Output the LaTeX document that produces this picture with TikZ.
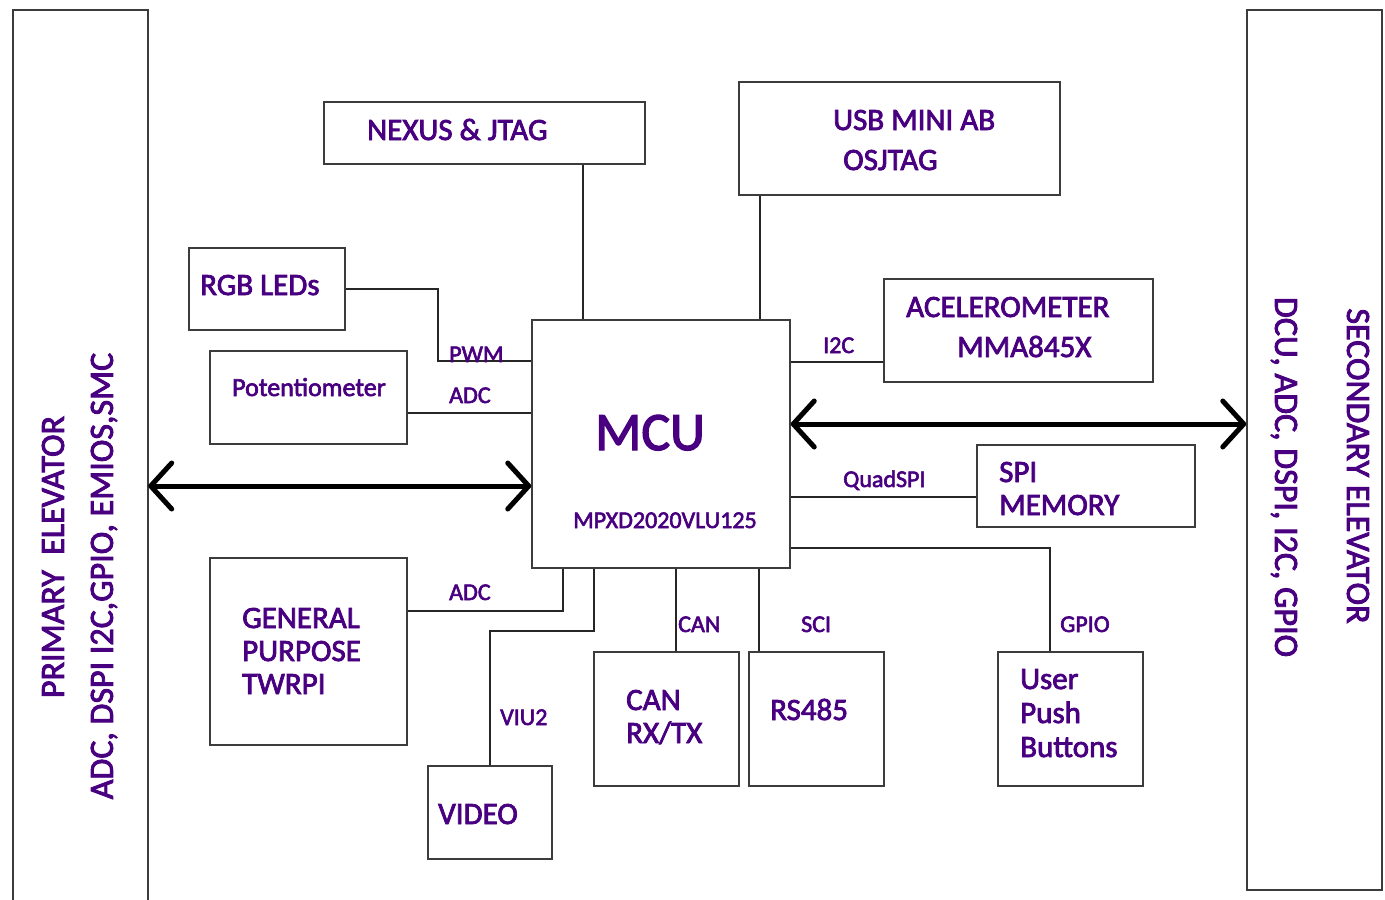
\documentclass[tikz,border=0pt]{standalone}
\usepackage{fontspec}
\setmainfont{Carlito}
\newfontfamily\medfont{Carlito}[FakeBold=2.5]
\usetikzlibrary{arrows.meta}
\definecolor{txt}{RGB}{72,0,128}
\definecolor{edge}{RGB}{60,60,60}
\begin{document}
\begin{tikzpicture}[x=1pt,y=-1pt,
  box/.style={draw=edge,line width=1.5pt,inner sep=0pt,rectangle},
  conn/.style={draw=black!85,line width=1.3pt},
  big/.style={line width=5pt,line cap=round,{Straight Barb[length=21pt,width=46pt,round]}-{Straight Barb[length=21pt,width=46pt,round]}},
  lbl/.style={text=txt,inner sep=0pt,anchor=base west,font=\medfont\fontsize{31}{33}\selectfont},
  sml/.style={text=txt,inner sep=0pt,anchor=base west,font=\medfont\fontsize{24}{26}\selectfont},
  elev/.style={text=txt,inner sep=0pt,font=\medfont\fontsize{34}{36}\selectfont}]
\useasboundingbox (0,0) rectangle (1385,900);
% panels
\node[inner sep=0pt,minimum width=135pt,minimum height=890pt] (lp) at (80.5,455) {};
\draw[edge,line width=1.5pt] (lp.south west) -- (lp.north west) -- (lp.north east) -- (lp.south east);
\node[box,minimum width=135pt,minimum height=880pt] (rp) at (1314.5,450) {};
% boxes
\node[box,minimum width=321pt,minimum height=62pt] (nexus) at (484.5,133) {};
\node[box,minimum width=321pt,minimum height=113pt] (usb) at (899.5,138.5) {};
\node[box,minimum width=156pt,minimum height=82pt] (rgb) at (267,289) {};
\node[box,minimum width=197pt,minimum height=93pt] (pot) at (308.5,397.5) {};
\node[box,minimum width=258pt,minimum height=248pt] (mcu) at (661,444) {};
\node[box,minimum width=269pt,minimum height=103pt] (accel) at (1018.5,330.5) {};
\node[box,minimum width=218pt,minimum height=82pt] (spi) at (1086,486) {};
\node[box,minimum width=197pt,minimum height=187pt] (gp) at (308.5,651.5) {};
\node[box,minimum width=124pt,minimum height=93pt] (video) at (490,812.5) {};
\node[box,minimum width=145pt,minimum height=134pt] (can) at (666.5,719) {};
\node[box,minimum width=135pt,minimum height=134pt] (rs) at (816.5,719) {};
\node[box,minimum width=145pt,minimum height=134pt] (user) at (1070.5,719) {};
% helper coordinates
\coordinate (xN) at (583,0);
\coordinate (xU) at (760,0);
\coordinate (cPWM) at (438,361);
\coordinate (yADC) at (0,413);
\coordinate (yI2C) at (0,362);
\coordinate (yQ) at (0,497);
\coordinate (cG) at (1050,548);
\coordinate (cA) at (563,611);
\coordinate (c1) at (594,631);
\coordinate (c2) at (490,631);
\coordinate (xC) at (676,0);
\coordinate (xS) at (759,0);
\coordinate (yL) at (0,486);
\coordinate (yR) at (0,424);
% connectors
\draw[conn] (nexus.south -| xN) -- (mcu.north -| xN);
\draw[conn] (usb.south -| xU) -- (mcu.north -| xU);
\draw[conn] (rgb.east) -| (cPWM) -- (mcu.west |- cPWM);
\draw[conn] (pot.east |- yADC) -- (mcu.west |- yADC);
\draw[conn] (mcu.east |- yI2C) -- (accel.west |- yI2C);
\draw[conn] (mcu.east |- yQ) -- (spi.west |- yQ);
\draw[conn] (mcu.east |- cG) -- (cG) -- (user.north -| cG);
\draw[conn] (mcu.south -| cA) -- (cA) -- (gp.east |- cA);
\draw[conn] (mcu.south -| c1) -- (c1) -- (c2) -- (video.north -| c2);
\draw[conn] (mcu.south -| xC) -- (can.north -| xC);
\draw[conn] (mcu.south -| xS) -- (rs.north -| xS);
% big arrows
\draw[big] (lp.east |- yL) -- (mcu.west |- yL);
\draw[big] (mcu.east |- yR) -- (rp.west |- yR);
% texts
\node[lbl] (tNexus) at (367,140) {NEXUS \& JTAG};
\node[lbl] (tUsb1) at (833,130) {USB MINI AB};
\node[lbl] (tUsb2) at (843,170) {OSJTAG};
\node[lbl] (tRgb) at (200,295) {RGB LEDs};
\node[sml,font=\medfont\fontsize{26}{28}\selectfont] (tPot) at (232,396) {Potentiometer};
\node[text=txt,inner sep=0pt,anchor=base west,font=\medfont\fontsize{54}{56}\selectfont] (tMcu) at (595,450) {MCU};
\node[sml] (tMpxd) at (573,528) {MPXD2020VLU125};
\node[lbl] (tAcc1) at (906,317) {ACELEROMETER};
\node[lbl] (tAcc2) at (957,357) {MMA845X};
\node[lbl] (tSpi1) at (999,482) {SPI};
\node[lbl] (tSpi2) at (999,515) {MEMORY};
\node[lbl] (tGp1) at (242,628) {GENERAL};
\node[lbl] (tGp2) at (242,661) {PURPOSE};
\node[lbl] (tGp3) at (242,694) {TWRPI};
\node[lbl] (tVideo) at (438,824) {VIDEO};
\node[lbl] (tCan1) at (626,710) {CAN};
\node[lbl] (tCan2) at (626,743) {RX/TX};
\node[lbl] (tRs) at (770,720) {RS485};
\node[lbl] (tUser1) at (1020,689) {User};
\node[lbl] (tUser2) at (1020,723) {Push};
\node[lbl] (tUser3) at (1020,757) {Buttons};
% signal labels
\node[sml] (lPwm) at (449,362) {PWM};
\node[sml] (lAdc1) at (449,403) {ADC};
\node[sml] (lI2c) at (823,353) {I2C};
\node[sml] (lQspi) at (843,487) {QuadSPI};
\node[sml] (lAdc2) at (449,600) {ADC};
\node[sml] (lViu) at (500,725) {VIU2};
\node[sml] (lCan) at (678,632) {CAN};
\node[sml] (lSci) at (801,632) {SCI};
\node[sml] (lGpio) at (1060,632) {GPIO};
% elevator texts
\node[elev,rotate=90] (tPrim) at (53,557) {PRIMARY\ \ ELEVATOR};
\node[elev,rotate=90] (tPrimB) at (104,576) {ADC, DSPI I2C,GPIO, EMIOS,SMC};
\node[elev,rotate=-90] (tSec) at (1358,466) {SECONDARY ELEVATOR};
\node[elev,rotate=-90] (tSecB) at (1284,477) {DCU, ADC, DSPI, I2C, GPIO};
\end{tikzpicture}
\end{document}
